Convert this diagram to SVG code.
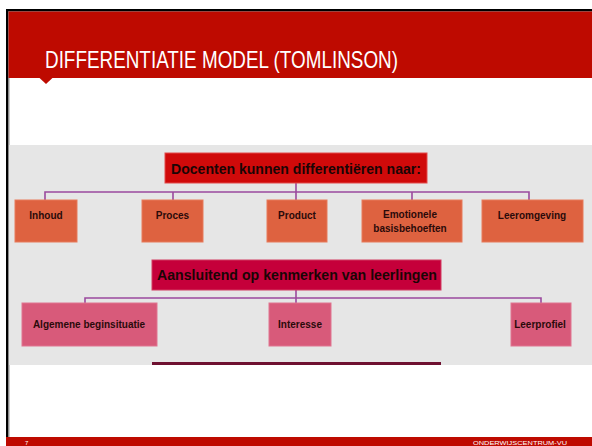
<svg xmlns="http://www.w3.org/2000/svg" width="592" height="446" viewBox="0 0 592 446">
<style>
.bar{fill:#BE0A00}
.lvl1t{font-family:"Liberation Sans",Arial,sans-serif;font-weight:bold;font-size:15px;fill:#1a0505;text-anchor:middle}
.box{font-family:"Liberation Sans",Arial,sans-serif;font-weight:bold;font-size:10px;fill:#2a0a0a;text-anchor:middle}
.or{fill:#DE6240;stroke:#E77A5A;stroke-width:1}
.pk{fill:#D85A7A;stroke:#E07590;stroke-width:1}
.conn{fill:none;stroke:#9B4A9E;stroke-width:1.6}
.foot{font-family:"Liberation Sans",Arial,sans-serif;font-size:6px;fill:#ffffff}
</style>
<rect x="0" y="0" width="592" height="446" fill="#ffffff"/>
<!-- frame -->
<rect x="6" y="9" width="586" height="2.5" fill="#000000"/>
<rect x="6" y="9" width="2.5" height="428" fill="#000000"/>
<rect x="8.5" y="11" width="1" height="426" fill="#9a9a9a"/>
<!-- header -->
<g id="header">
<rect class="bar" x="8.5" y="11.5" width="583.5" height="66.5"/>
<polygon class="bar" points="39,77.5 53,77.5 46,84"/>
<text x="45" y="68" font-family="'Liberation Sans',Arial,sans-serif" font-size="24" fill="#ffffff" textLength="353" lengthAdjust="spacingAndGlyphs">DIFFERENTIATIE MODEL (TOMLINSON)</text>
</g>
<!-- image background -->
<rect x="9" y="145" width="583" height="220" fill="#E6E6E6"/>
<!-- connectors -->
<g id="connectors">
<path class="conn" d="M296,183 V192 M45,200 V192 H529 V200 M173,192 V200 M296,192 V200 M412,192 V200"/>
<path class="conn" d="M296,290 V303 M85,303 V298 H541 V303"/>
</g>
<g id="docenten">
<rect x="165" y="153" width="262" height="30" fill="#D00A0A" stroke="#E24A4A" stroke-width="1"/>
<text class="lvl1t" x="296" y="173.5" textLength="250" lengthAdjust="spacingAndGlyphs">Docenten kunnen differentiëren naar:</text>
</g>
<g id="inhoud">
<rect class="or" x="15" y="200" width="62" height="42"/>
<text class="box" x="46" y="218.5">Inhoud</text>
</g>
<g id="proces">
<rect class="or" x="142" y="200" width="61" height="42"/>
<text class="box" x="172.5" y="218.5">Proces</text>
</g>
<g id="product">
<rect class="or" x="267" y="200" width="60" height="42"/>
<text class="box" x="297" y="218.5">Product</text>
</g>
<g id="emotionele">
<rect class="or" x="362" y="200" width="100" height="42"/>
<text class="box" x="410" y="217.5">Emotionele</text>
<text class="box" x="410" y="232">basisbehoeften</text>
</g>
<g id="leeromgeving">
<rect class="or" x="482" y="200" width="101" height="42"/>
<text class="box" x="532" y="218.5">Leeromgeving</text>
</g>
<g id="aansluitend">
<rect x="152" y="260" width="289" height="30" fill="#C5003A" stroke="#D23A60" stroke-width="1"/>
<text class="lvl1t" x="297" y="279.5" textLength="280" lengthAdjust="spacingAndGlyphs">Aansluitend op kenmerken van leerlingen</text>
</g>
<g id="algemene">
<rect class="pk" x="22" y="303" width="135" height="43"/>
<text class="box" x="89" y="327.5">Algemene beginsituatie</text>
</g>
<g id="interesse">
<rect class="pk" x="269" y="303" width="62" height="43"/>
<text class="box" x="300" y="327.5">Interesse</text>
</g>
<g id="leerprofiel">
<rect class="pk" x="511" y="303" width="60" height="43"/>
<text class="box" x="540" y="327.5">Leerprofiel</text>
</g>
<g id="cutbox">
<rect x="152" y="362" width="289" height="3" fill="#6E1030"/>
</g>
<!-- footer -->
<g id="footer">
<rect class="bar" x="6" y="437" width="586" height="9"/>
<text class="foot" x="25" y="445">7</text>
<text class="foot" x="473" y="445" textLength="94" lengthAdjust="spacingAndGlyphs">ONDERWIJSCENTRUM-VU</text>
</g>
</svg>
